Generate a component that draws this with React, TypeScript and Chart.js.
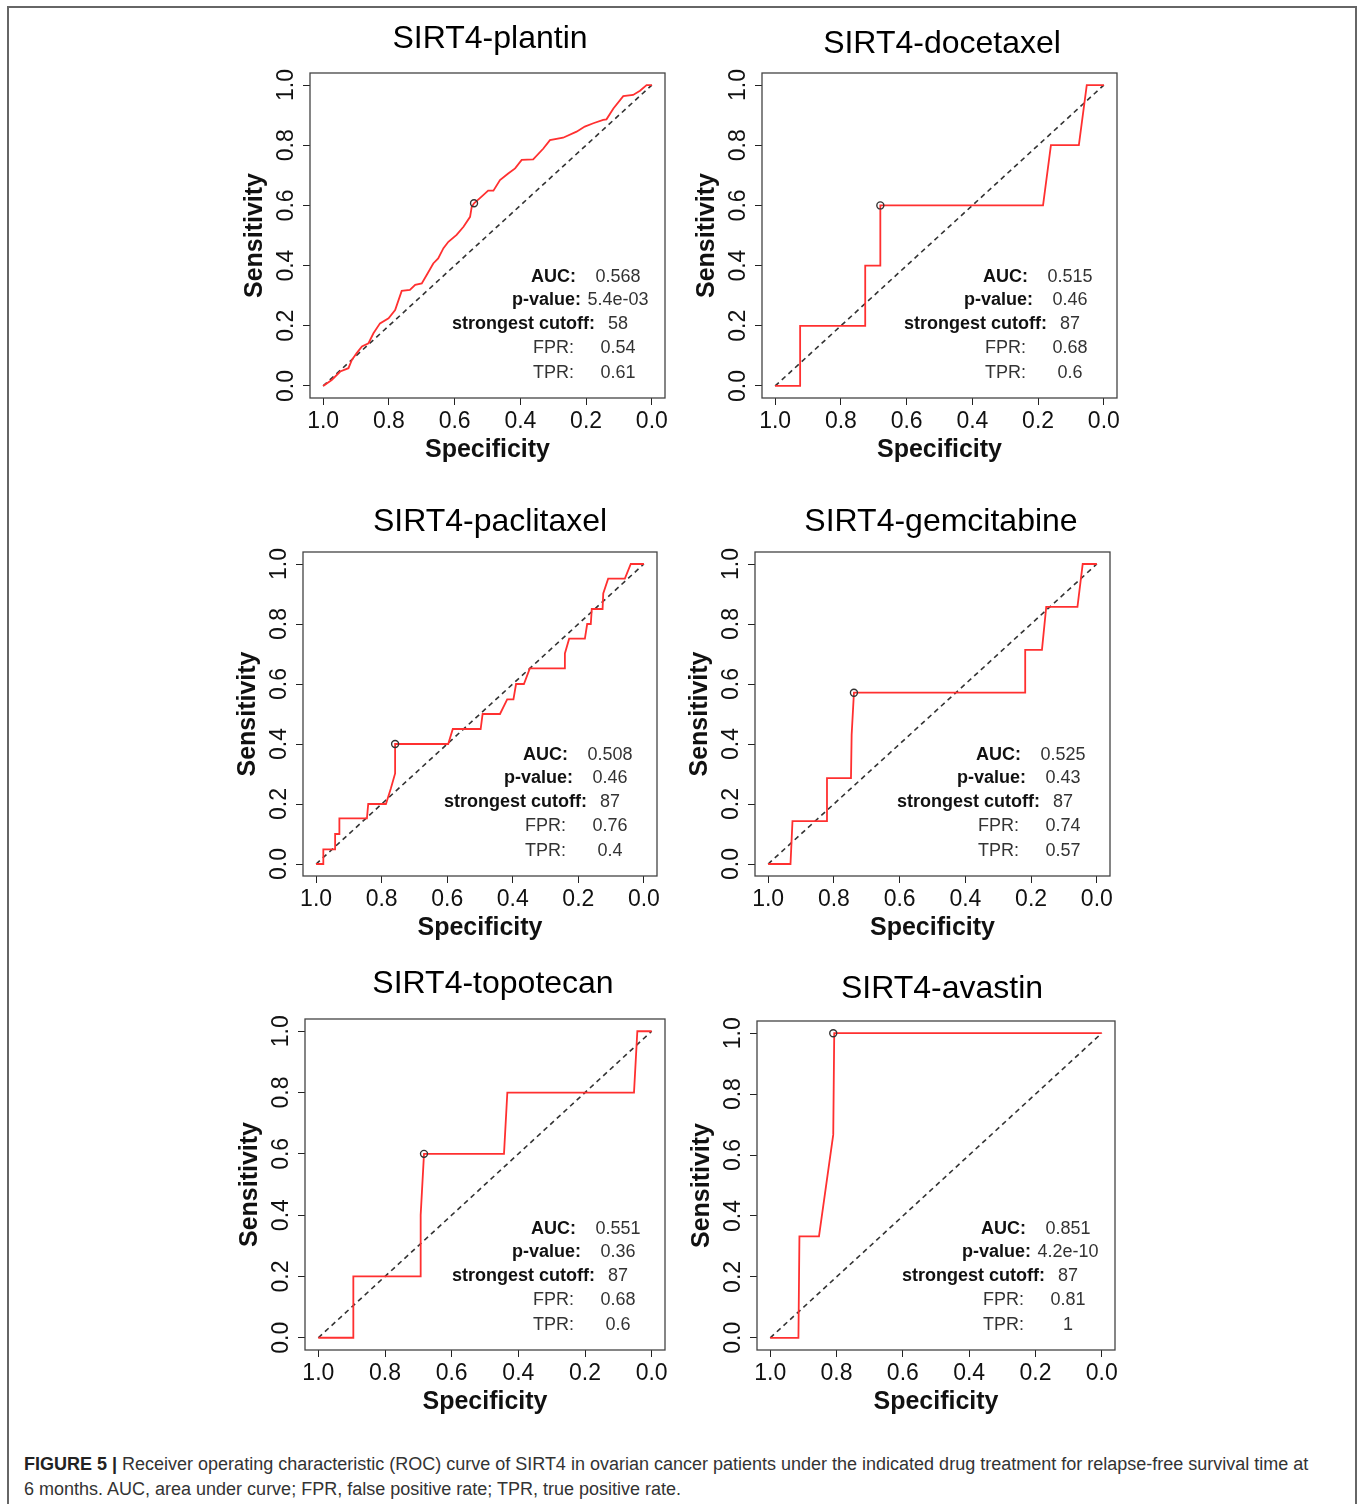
import React, { useEffect, useRef } from "react";
import { Chart, registerables } from "chart.js";
Chart.register(...registerables);

const FONT = '"Liberation Sans", Arial, Helvetica, sans-serif';

// ---------- data ----------
const tickValues = [0, 0.2, 0.4, 0.6, 0.8, 1.0];
const statLabels = ["AUC:", "p-value:", "strongest cutoff:", "FPR:", "TPR:"];

const plantinSpec = [1.0, 0.974, 0.948, 0.923, 0.913, 0.898, 0.882, 0.862, 0.847, 0.827, 0.801, 0.781, 0.761, 0.736, 0.72, 0.7, 0.685, 0.665, 0.65, 0.634, 0.619, 0.594, 0.573, 0.553, 0.548, 0.541, 0.518, 0.498, 0.482, 0.462, 0.437, 0.416, 0.396, 0.361, 0.33, 0.31, 0.27, 0.229, 0.204, 0.178, 0.148, 0.138, 0.117, 0.087, 0.057, 0.036, 0.016, 0.0];
const plantinSens = [0, 0.02, 0.048, 0.059, 0.086, 0.109, 0.131, 0.142, 0.175, 0.208, 0.225, 0.252, 0.316, 0.319, 0.336, 0.341, 0.369, 0.407, 0.424, 0.458, 0.479, 0.502, 0.529, 0.562, 0.595, 0.607, 0.629, 0.649, 0.649, 0.684, 0.706, 0.723, 0.751, 0.753, 0.789, 0.817, 0.825, 0.845, 0.862, 0.873, 0.884, 0.886, 0.922, 0.963, 0.967, 0.981, 1.0, 1.0];
const plantinCut = [0.541, 0.607];
const plantinStats = ["0.568", "5.4e-03", "58", "0.54", "0.61"];

const docetaxelSpec = [1.0, 0.924, 0.924, 0.726, 0.726, 0.68, 0.68, 0.185, 0.161, 0.076, 0.052, 0.0];
const docetaxelSens = [0, 0, 0.2, 0.2, 0.4, 0.4, 0.6, 0.6, 0.8, 0.8, 1.0, 1.0];
const docetaxelCut = [0.68, 0.6];
const docetaxelStats = ["0.515", "0.46", "87", "0.68", "0.6"];

const paclitaxelSpec = [1.0, 0.978, 0.978, 0.942, 0.942, 0.929, 0.929, 0.845, 0.841, 0.787, 0.772, 0.759, 0.759, 0.597, 0.583, 0.498, 0.492, 0.439, 0.417, 0.398, 0.39, 0.366, 0.348, 0.243, 0.241, 0.228, 0.18, 0.173, 0.162, 0.159, 0.126, 0.124, 0.109, 0.058, 0.04, 0.0];
const paclitaxelSens = [0, 0, 0.049, 0.049, 0.1, 0.1, 0.152, 0.152, 0.2, 0.2, 0.252, 0.302, 0.4, 0.4, 0.45, 0.45, 0.5, 0.5, 0.549, 0.549, 0.6, 0.6, 0.652, 0.652, 0.702, 0.751, 0.751, 0.8, 0.8, 0.85, 0.85, 0.902, 0.951, 0.951, 1.0, 1.0];
const paclitaxelCut = [0.759, 0.4];
const paclitaxelStats = ["0.508", "0.46", "87", "0.76", "0.4"];

const gemcitabineSpec = [1.0, 0.932, 0.926, 0.822, 0.821, 0.748, 0.746, 0.739, 0.218, 0.218, 0.167, 0.154, 0.059, 0.043, 0.0];
const gemcitabineSens = [0, 0, 0.143, 0.143, 0.286, 0.286, 0.43, 0.571, 0.571, 0.714, 0.714, 0.857, 0.857, 1.0, 1.0];
const gemcitabineCut = [0.739, 0.571];
const gemcitabineStats = ["0.525", "0.43", "87", "0.74", "0.57"];

const topotecanSpec = [1.0, 0.895, 0.895, 0.693, 0.693, 0.683, 0.443, 0.433, 0.053, 0.043, 0.0];
const topotecanSens = [0, 0, 0.2, 0.2, 0.4, 0.6, 0.6, 0.8, 0.8, 1.0, 1.0];
const topotecanCut = [0.683, 0.6];
const topotecanStats = ["0.551", "0.36", "87", "0.68", "0.6"];

const avastinSpec = [1.0, 0.915, 0.912, 0.853, 0.81, 0.807, 0.0];
const avastinSens = [0, 0, 0.333, 0.333, 0.667, 1.0, 1.0];
const avastinCut = [0.81, 1.0];
const avastinStats = ["0.851", "4.2e-10", "87", "0.81", "1"];

// ---------- layout ----------
type Box = { l: number; t: number; w: number; h: number };
type PanelCfg = {
  title: string;
  spec: number[];
  sens: number[];
  cut: number[];
  stats: string[];
  box: Box;
  titleX: number;
  titleDy: number;
};

const panels: PanelCfg[] = [
  { title: "SIRT4-plantin", spec: plantinSpec, sens: plantinSens, cut: plantinCut, stats: plantinStats, box: { l: 310, t: 73, w: 355, h: 325 }, titleX: 490, titleDy: -34 },
  { title: "SIRT4-docetaxel", spec: docetaxelSpec, sens: docetaxelSens, cut: docetaxelCut, stats: docetaxelStats, box: { l: 762, t: 73, w: 355, h: 325 }, titleX: 942, titleDy: -29 },
  { title: "SIRT4-paclitaxel", spec: paclitaxelSpec, sens: paclitaxelSens, cut: paclitaxelCut, stats: paclitaxelStats, box: { l: 303, t: 552, w: 354, h: 324 }, titleX: 490, titleDy: -30 },
  { title: "SIRT4-gemcitabine", spec: gemcitabineSpec, sens: gemcitabineSens, cut: gemcitabineCut, stats: gemcitabineStats, box: { l: 755, t: 552, w: 355, h: 324 }, titleX: 941, titleDy: -30 },
  { title: "SIRT4-topotecan", spec: topotecanSpec, sens: topotecanSens, cut: topotecanCut, stats: topotecanStats, box: { l: 305, t: 1019, w: 360, h: 331 }, titleX: 493, titleDy: -35 },
  { title: "SIRT4-avastin", spec: avastinSpec, sens: avastinSens, cut: avastinCut, stats: avastinStats, box: { l: 757, t: 1021, w: 358, h: 329 }, titleX: 942, titleDy: -32 },
];

const PAD_L = 110;
const PAD_T = 70;
const PAD_R = 30;
const PAD_B = 80;

const rowFromBottom = [121, 98, 74, 50, 25];
const labelFromRight = [89, 84, 70, 91, 91];
const valueFromRight = 47;

function decorPlugin(cfg: PanelCfg) {
  return {
    id: "decor",
    afterDraw(chart: any) {
      const { ctx, chartArea: a } = chart;
      ctx.save();
      // box
      ctx.strokeStyle = "#444";
      ctx.lineWidth = 1.3;
      ctx.strokeRect(a.left, a.top, a.right - a.left, a.bottom - a.top);
      // y tick labels (rotated like R)
      const ys = chart.scales.y;
      ctx.fillStyle = "#111";
      ctx.font = `23px ${FONT}`;
      ctx.textAlign = "center";
      ctx.textBaseline = "middle";
      for (const v of tickValues) {
        const py = ys.getPixelForValue(v);
        ctx.save();
        ctx.translate(a.left - 23, py);
        ctx.rotate(-Math.PI / 2);
        ctx.fillText(v.toFixed(1), 0, 0);
        ctx.restore();
      }
      // title
      ctx.font = `32px ${FONT}`;
      ctx.fillStyle = "#000";
      ctx.textAlign = "center";
      ctx.fillText(cfg.title, cfg.titleX - (cfg.box.l - PAD_L), a.top + cfg.titleDy);
      // stats
      for (let i = 0; i < statLabels.length; i++) {
        const y = a.bottom - rowFromBottom[i];
        const bold = i < 3;
        ctx.font = `${bold ? "bold " : ""}18px ${FONT}`;
        ctx.fillStyle = bold ? "#111" : "#333";
        ctx.textAlign = "right";
        ctx.fillText(statLabels[i], a.right - labelFromRight[i], y);
        ctx.font = `18px ${FONT}`;
        ctx.fillStyle = "#333";
        ctx.textAlign = "center";
        ctx.fillText(cfg.stats[i], a.right - valueFromRight, y);
      }
      ctx.restore();
    },
  };
}

function RocPanel({ cfg }: { cfg: PanelCfg }) {
  const ref = useRef<HTMLCanvasElement>(null);
  const cw = cfg.box.w + PAD_L + PAD_R;
  const ch = cfg.box.h + PAD_T + PAD_B;
  useEffect(() => {
    const axisCommon = {
      type: "linear" as const,
      min: -0.04,
      max: 1.04,
      afterBuildTicks: (s: any) => {
        s.ticks = tickValues.map((v) => ({ value: v }));
      },
      grid: { drawOnChartArea: false, drawTicks: true, tickLength: 7, tickColor: "#222", tickWidth: 1 },
      border: { display: false },
    };
    const chart = new Chart(ref.current!, {
      type: "line",
      data: {
        datasets: [
          {
            data: [{ x: 1, y: 0 }, { x: 0, y: 1 }],
            borderColor: "#333",
            borderDash: [5, 4],
            borderWidth: 1.6,
            pointRadius: 0,
            order: 3,
          },
          {
            data: cfg.spec.map((s, i) => ({ x: s, y: cfg.sens[i] })),
            borderColor: "#ff3030",
            borderWidth: 1.8,
            pointRadius: 0,
            tension: 0,
            order: 2,
          },
          {
            data: [{ x: cfg.cut[0], y: cfg.cut[1] }],
            showLine: false,
            pointRadius: 3.5,
            pointBorderColor: "#333",
            pointBackgroundColor: "rgba(0,0,0,0)",
            pointBorderWidth: 1.4,
            order: 1,
          },
        ] as any,
      },
      options: {
        animation: false,
        responsive: false,
        devicePixelRatio: 1,
        layout: { padding: { left: 0, top: PAD_T, right: PAD_R, bottom: 0 } },
        plugins: { legend: { display: false }, tooltip: { enabled: false }, title: { display: false } },
        scales: {
          x: {
            ...axisCommon,
            reverse: true,
            afterFit: (s: any) => {
              s.height = PAD_B;
            },
            ticks: {
              font: { family: FONT, size: 23, lineHeight: 1 },
              color: "#111",
              padding: 5.5,
              maxRotation: 0,
              autoSkip: false,
              callback: (v: any) => Number(v).toFixed(1),
            },
            title: {
              display: true,
              text: "Specificity",
              color: "#111",
              font: { family: FONT, size: 25, weight: "bold" },
              padding: { top: 0, bottom: 13 },
            },
          },
          y: {
            ...axisCommon,
            afterFit: (s: any) => {
              s.width = PAD_L;
            },
            ticks: { display: false },
            title: {
              display: true,
              text: "Sensitivity",
              color: "#111",
              font: { family: FONT, size: 25, weight: "bold" },
              padding: { top: 40, bottom: 0 },
            },
          },
        },
      } as any,
      plugins: [decorPlugin(cfg)],
    });
    return () => chart.destroy();
  }, []);
  return (
    <canvas
      ref={ref}
      width={cw}
      height={ch}
      style={{ position: "absolute", left: cfg.box.l - PAD_L, top: cfg.box.t - PAD_T, width: cw, height: ch }}
    />
  );
}

export default function App() {
  return (
    <div
      style={{
        position: "absolute",
        left: 0,
        top: 0,
        width: 1360,
        height: 1504,
        overflow: "hidden",
        background: "#fff",
        fontFamily: FONT,
      }}
    >
      <div
        style={{
          position: "absolute",
          left: 7,
          top: 6,
          width: 1350,
          height: 1530,
          borderLeft: "2px solid #666",
          borderTop: "2px solid #666",
          borderRight: "2px solid #666",
          boxSizing: "border-box",
        }}
      />
      {panels.map((p) => (
        <RocPanel key={p.title} cfg={p} />
      ))}
      <div
        style={{
          position: "absolute",
          left: 24,
          top: 1452,
          fontSize: 18,
          lineHeight: "25px",
          color: "#333",
          whiteSpace: "nowrap",
        }}
      >
        <b style={{ color: "#222" }}>FIGURE 5 |</b> Receiver operating characteristic (ROC) curve of SIRT4 in ovarian cancer
        patients under the indicated drug treatment for relapse-free survival time at
        <br />6 months. AUC, area under curve; FPR, false positive rate; TPR, true positive rate.
      </div>
    </div>
  );
}
